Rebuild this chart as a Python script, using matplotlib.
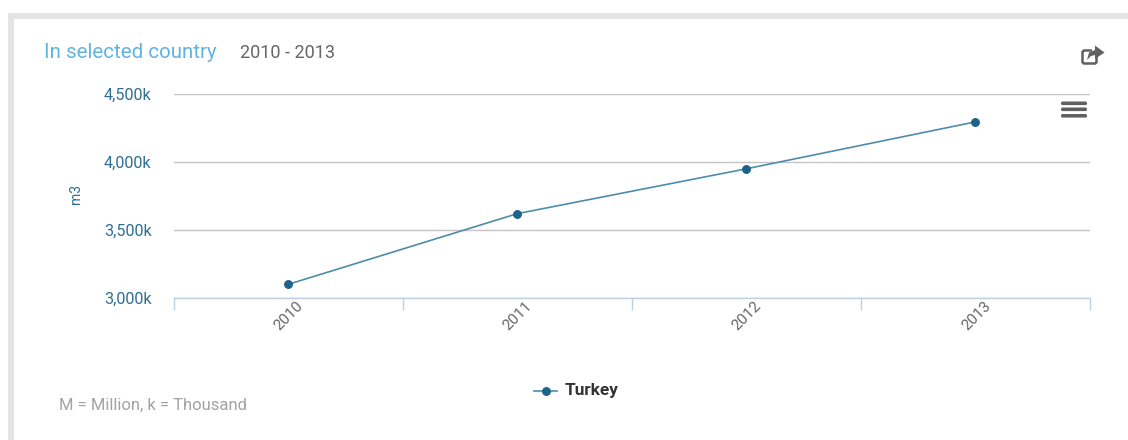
import matplotlib
matplotlib.use("Agg")
import matplotlib.pyplot as plt
from matplotlib.patches import Rectangle, FancyBboxPatch, Polygon
from matplotlib.ticker import FuncFormatter
from matplotlib.transforms import ScaledTranslation

years = ["2010", "2011", "2012", "2013"]
volumes_k = [3100, 3620, 3950, 4295]
y_ticks = [3000, 3500, 4000, 4500]
series_name = "Turkey"

W, H = 1128, 440
LINE = "#4f8bab"
MARK = "#1d6288"
plt.rcParams["font.family"] = ["Roboto", "DejaVu Sans"]

fig = plt.figure(figsize=(W / 100, H / 100), dpi=100, facecolor="white")

# Page layer in pixel coordinates: card frame, toolbar icons, captions
page = fig.add_axes([0, 0, 1, 1], zorder=0)
page.set_xlim(0, W)
page.set_ylim(H, 0)
page.axis("off")
page.add_patch(Rectangle((8, 13), W - 8, 6, fc="#e4e4e4", ec="none"))
page.add_patch(Rectangle((8, 13), 5.5, H - 13, fc="#e4e4e4", ec="none"))

page.text(44, 52, "In selected country", fontsize=14.8, color="#62b4e0", va="center", ha="left")
page.text(240, 53, "2010 - 2013", fontsize=13, color="#666666", va="center", ha="left")
page.text(59, 405, "M = Million, k = Thousand", fontsize=12, color="#a3a3a3", va="center", ha="left")

# Share icon
page.add_patch(FancyBboxPatch((1082.5, 50.5), 14, 13, boxstyle="round,pad=0,rounding_size=2",
                              fc="none", ec="#606060", lw=1.8))
page.add_patch(Rectangle((1092, 46), 8, 10, fc="white", ec="none"))
page.add_patch(Polygon([(1087, 60), (1089, 52.5), (1095, 50), (1095, 45.5), (1104.5, 52.5),
                        (1095, 59), (1095, 55), (1091, 56)], fc="#606060", ec="none"))

# Menu icon
for bar_y in (101.5, 107.5, 114):
    page.add_patch(FancyBboxPatch((1061, bar_y), 26, 3.6, boxstyle="round,pad=0,rounding_size=1.6",
                                  fc="#606060", ec="none"))

# Chart
ax = fig.add_axes([173.5 / W, (H - 298) / H, 916.5 / W, 204 / H], zorder=1)
ax.patch.set_alpha(0)
positions = range(len(years))
ax.plot(positions, volumes_k, color=LINE, lw=1.2, marker="o", ms=5.4,
        mfc=MARK, mec=MARK, clip_on=False, zorder=3)
ax.set_xlim(-0.5, len(years) - 0.5)
ax.set_ylim(y_ticks[0], y_ticks[-1])

ax.set_yticks(y_ticks)
ax.yaxis.set_major_formatter(FuncFormatter(lambda v, _: f"{int(v):,}k"))
ax.grid(axis="y", color="#c4c4c4", lw=1)
ax.set_axisbelow(True)
ax.tick_params(axis="y", length=0, pad=15.8, labelsize=11.7, labelcolor="#2f6f96")
nudge_down = ScaledTranslation(0, -1 / 100, fig.dpi_scale_trans)
for label in ax.get_yticklabels():
    label.set_va("center")
    label.set_transform(label.get_transform() + nudge_down)

# Boundary ticks between categories; year labels sit mid-band
ax.set_xticks([p - 0.5 for p in range(len(years) + 1)])
ax.set_xticklabels([])
ax.tick_params(axis="x", length=8.6, width=1, color="#c0d0e0")
for spine in ("top", "right", "left"):
    ax.spines[spine].set_visible(False)
ax.spines["bottom"].set_color("#c0d0e0")
ax.spines["bottom"].set_linewidth(1)

for p, year in zip(positions, years):
    ax.annotate(year, xy=(p, 0), xycoords=("data", "axes fraction"), xytext=(0.5, -0.5),
                textcoords="offset points", rotation=45, ha="center", va="top",
                rotation_mode="default", fontsize=11, color="#666666")

ax.set_ylabel("m3", fontsize=10, color="#2f6f96", labelpad=0)
ax.yaxis.set_label_coords((83 - 173.5) / 916.5, 0.51)

# Legend entry
page.plot([534, 557], [391, 391], color=LINE, lw=1.2)
page.plot([545.5], [391], marker="o", ms=5.4, color=MARK)
page.text(565, 391, series_name, fontsize=12.4, fontweight="bold", color="#333333", va="center", ha="left")

fig.savefig("out.png", dpi=100, facecolor="white")
